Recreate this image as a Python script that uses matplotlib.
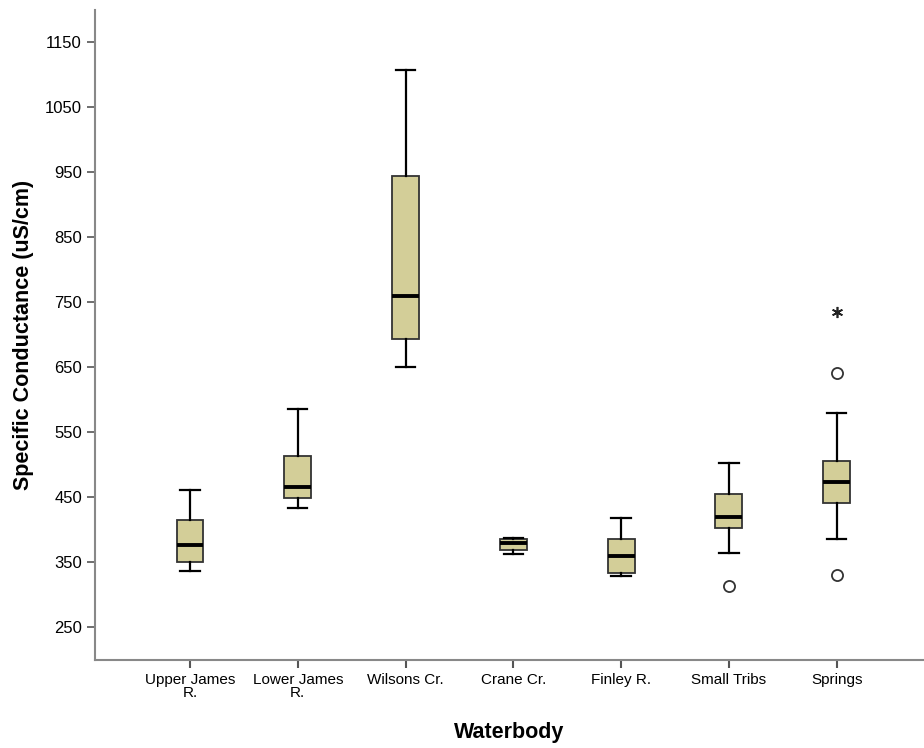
import matplotlib.pyplot as plt

plt.rcParams["font.family"] = ["Liberation Sans", "DejaVu Sans"]

waterbodies = ["Upper James\nR.", "Lower James\nR.", "Wilsons Cr.", "Crane Cr.",
               "Finley R.", "Small Tribs", "Springs"]
whisker_low = [337, 433, 651, 363, 329, 364, 385]
q1 = [351, 449, 694, 369, 334, 403, 441]
median = [376, 466, 759, 379, 359, 420, 474]
q3 = [415, 514, 944, 385, 385, 455, 506]
whisker_high = [461, 586, 1107, 388, 418, 502, 580]
outliers = [[], [], [], [], [], [313], [331, 641]]
extremes = [[], [], [], [], [], [], [735]]
yticks = [250, 350, 450, 550, 650, 750, 850, 950, 1050, 1150]

stats = []
for i in range(len(waterbodies)):
    stats.append({
        "whislo": whisker_low[i], "q1": q1[i], "med": median[i],
        "q3": q3[i], "whishi": whisker_high[i], "fliers": outliers[i],
    })

fig = plt.figure(figsize=(9.24, 7.48), dpi=100)
ax = fig.add_axes([0.103, 0.118, 0.897, 0.869])

positions = list(range(1, len(waterbodies) + 1))
ax.bxp(stats, positions=positions, widths=0.25, capwidths=0.18,
       patch_artist=True, showfliers=True,
       boxprops=dict(facecolor="#d3ce98", edgecolor="#333333", linewidth=1.3),
       medianprops=dict(color="black", linewidth=2.8),
       whiskerprops=dict(color="black", linewidth=1.6),
       capprops=dict(color="black", linewidth=1.6),
       flierprops=dict(marker="o", markersize=8, markerfacecolor="white",
                       markeredgecolor="#333333", markeredgewidth=1.3))

# extreme values are drawn as stars, like SPSS does
for pos, vals in zip(positions, extremes):
    for v in vals:
        ax.plot(pos, v, marker=(6, 2, 0), color="#222222", markersize=8,
                markeredgewidth=1.2, linestyle="none")

ax.set_xlim(0.12, 7.81)
ax.set_ylim(200, 1200)
ax.set_yticks(yticks)
ax.set_xticks(positions)
ax.set_xticklabels(waterbodies, fontsize=11, linespacing=0.9)
ax.tick_params(axis="y", labelsize=12, length=6, width=1.2, color="#555555")
ax.tick_params(axis="x", length=6, width=1.5, color="#555555")

for side in ["top", "right"]:
    ax.spines[side].set_visible(False)
for side in ["left", "bottom"]:
    ax.spines[side].set_color("#888888")
    ax.spines[side].set_linewidth(1.5)

ax.set_ylabel("Specific Conductance (uS/cm)", fontsize=15.5, fontweight="bold", labelpad=8)
ax.set_xlabel("Waterbody", fontsize=15.5, fontweight="bold", labelpad=16)

fig.savefig("out.png", dpi=100)
